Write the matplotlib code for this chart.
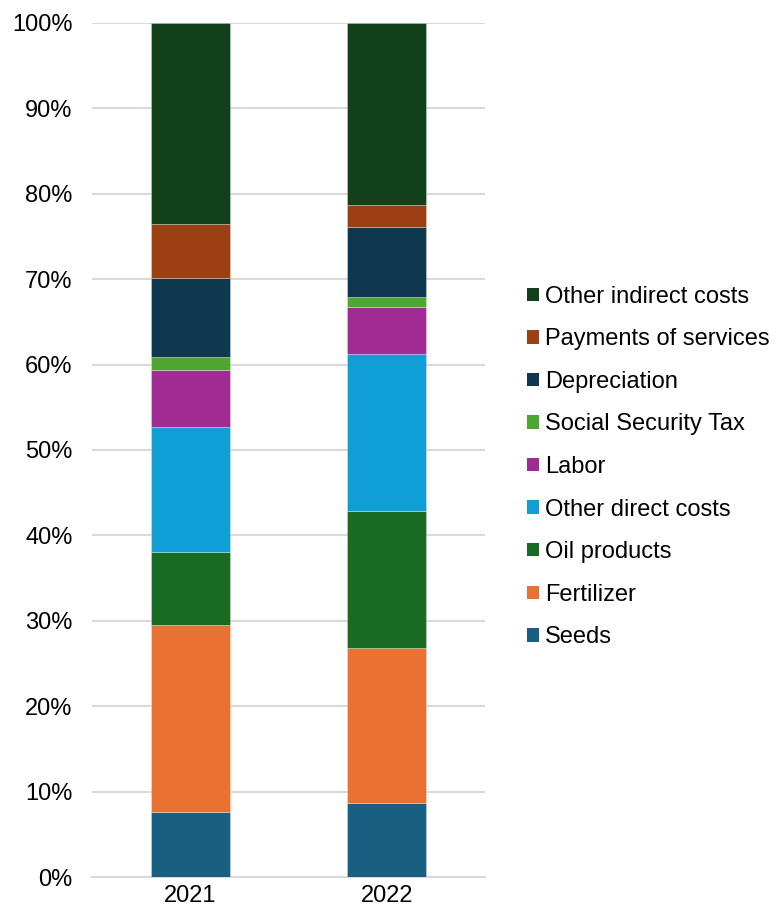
import matplotlib
matplotlib.use("Agg")
import matplotlib.pyplot as plt
from matplotlib.ticker import FuncFormatter
import numpy as np

plt.rcParams['font.family'] = ['Liberation Sans', 'DejaVu Sans']

years = ["2021", "2022"]
categories = ["Seeds", "Fertilizer", "Oil products", "Other direct costs", "Labor",
              "Social Security Tax", "Depreciation", "Payments of services", "Other indirect costs"]
seeds = [7.6, 8.7]
fertilizer = [21.9, 18.1]
oil_products = [8.5, 16.1]
other_direct = [14.7, 18.3]
labor = [6.7, 5.5]
social_security = [1.5, 1.2]
depreciation = [9.2, 8.2]
payments_services = [6.4, 2.6]
other_indirect = [23.5, 21.3]
series = [seeds, fertilizer, oil_products, other_direct, labor,
          social_security, depreciation, payments_services, other_indirect]
colors = ["#185F82", "#E97132", "#196B24", "#0F9ED5", "#A02B93",
          "#4EA72E", "#0F384E", "#9A4012", "#12401A"]
yticks = [0, 10, 20, 30, 40, 50, 60, 70, 80, 90, 100]

fig = plt.figure(figsize=(7.79, 9.15), dpi=100)
ax = fig.add_axes([0.1181, 0.0415, 0.5045, 0.9334])

x = np.arange(len(years))
bottom = np.zeros(len(years))
handles = []
for name, vals, col in zip(categories, series, colors):
    vals = np.array(vals)
    b = ax.bar(x, vals, width=0.4, bottom=bottom, color=col, label=name,
               edgecolor=(1, 1, 1, 0.35), linewidth=0.6, zorder=3)
    handles.append(b)
    bottom += vals

ax.set_xlim(-0.5, 1.5)
ax.set_ylim(0, 100)
ax.set_yticks(yticks)
ax.yaxis.set_major_formatter(FuncFormatter(lambda v, p: f"{int(v)}%"))
ax.set_xticks(x)
ax.set_xticklabels(years)
ax.grid(axis="y", color="#d9d9d9", linewidth=1.5, zorder=0)
for s in ["top", "right", "left"]:
    ax.spines[s].set_visible(False)
ax.spines["bottom"].set_color("#d9d9d9")
ax.spines["bottom"].set_linewidth(1.5)
ax.tick_params(axis="both", length=0, labelsize=17, colors="#000000")
ax.tick_params(axis="y", pad=14)
ax.tick_params(axis="x", pad=6)

leg = fig.legend(handles[::-1], categories[::-1], loc="center left",
                 bbox_to_anchor=(0.6765, 0.4896), frameon=False, fontsize=17,
                 handlelength=0.5, handleheight=0.5, handletextpad=0.25,
                 labelspacing=0.87, borderpad=0, borderaxespad=0)
for h in leg.legend_handles:
    h.set_edgecolor("none")

fig.savefig("out.png", dpi=100)
